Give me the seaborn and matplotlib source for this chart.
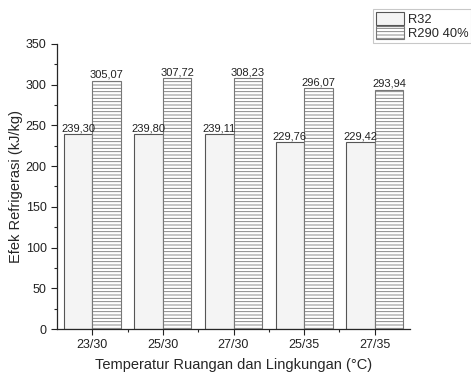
import matplotlib
matplotlib.use("Agg")
import matplotlib.pyplot as plt
import seaborn as sns
import pandas as pd
from matplotlib.patches import Patch
from matplotlib.ticker import MultipleLocator

categories = ["23/30", "25/30", "27/30", "25/35", "27/35"]
r32 = [239.30, 239.80, 239.11, 229.76, 229.42]
r290 = [305.07, 307.72, 308.23, 296.07, 293.94]
series_names = ["R32", "R290 40%"]
r32_labels = ["239,30", "239,80", "239,11", "229,76", "229,42"]
r290_labels = ["305,07", "307,72", "308,23", "296,07", "293,94"]

sns.set_style("ticks")
plt.rcParams['font.family'] = ['Liberation Sans', 'DejaVu Sans']
plt.rcParams['hatch.linewidth'] = 0.6

df = pd.DataFrame({
    "cat": categories * 2,
    "val": r32 + r290,
    "series": [series_names[0]] * 5 + [series_names[1]] * 5,
})

fig = plt.figure(figsize=(4.71, 3.74), dpi=100)
ax = fig.add_axes([57/471, 1 - 329/374, (410-57)/471, (329-44)/374])
sns.barplot(data=df, x="cat", y="val", hue="series", width=0.81, gap=0,
            palette=["#f4f4f4", "#ffffff"], edgecolor="#555555", linewidth=0.8,
            legend=False, ax=ax)

styles = [dict(fc="#f4f4f4", hatch=None), dict(fc="#ffffff", hatch="-----")]
for i, cont in enumerate(ax.containers):
    for p in cont:
        p.set_facecolor(styles[i]["fc"])
        if styles[i]["hatch"]:
            p.set_hatch(styles[i]["hatch"])
            p.set_edgecolor("#777777")
    labs = r32_labels if i == 0 else r290_labels
    ax.bar_label(cont, labels=labs, padding=0.5, fontsize=8, color="#222222")

ax.set_ylim(0, 350)
ax.set_xlim(-0.5, 4.5)
ax.yaxis.set_major_locator(MultipleLocator(50))
ax.yaxis.set_minor_locator(MultipleLocator(25))
ax.set_xticks(range(len(categories)))
ax.set_xticks([0.5, 1.5, 2.5, 3.5], minor=True)
ax.tick_params(axis="both", which="major", length=4, width=0.8, labelsize=9, colors="#222222")
ax.tick_params(axis="both", which="minor", length=2.5, width=0.8)
sns.despine(ax=ax)
for s in ["left", "bottom"]:
    ax.spines[s].set_linewidth(0.9)
ax.set_xlabel("Temperatur Ruangan dan Lingkungan (°C)", fontsize=10.5, labelpad=5)
ax.set_ylabel("Efek Refrigerasi (kJ/kg)", fontsize=10.5, labelpad=2)

handles = [
    Patch(facecolor="#f4f4f4", edgecolor="#555555", linewidth=0.8, label=series_names[0]),
    Patch(facecolor="#ffffff", edgecolor="#777777", hatch="-----", linewidth=0.8, label=series_names[1]),
]
leg = fig.legend(handles=handles, loc="upper left", bbox_to_anchor=(373/471, 1 - 9/374),
                 fontsize=9.3, frameon=True, fancybox=False, handlelength=2.2, handleheight=1.2,
                 borderpad=0.2, labelspacing=0.05, handletextpad=0.3, borderaxespad=0)
leg.get_frame().set_edgecolor("#bbbbbb")
leg.get_frame().set_linewidth(0.8)

fig.savefig("out.png", dpi=100)
